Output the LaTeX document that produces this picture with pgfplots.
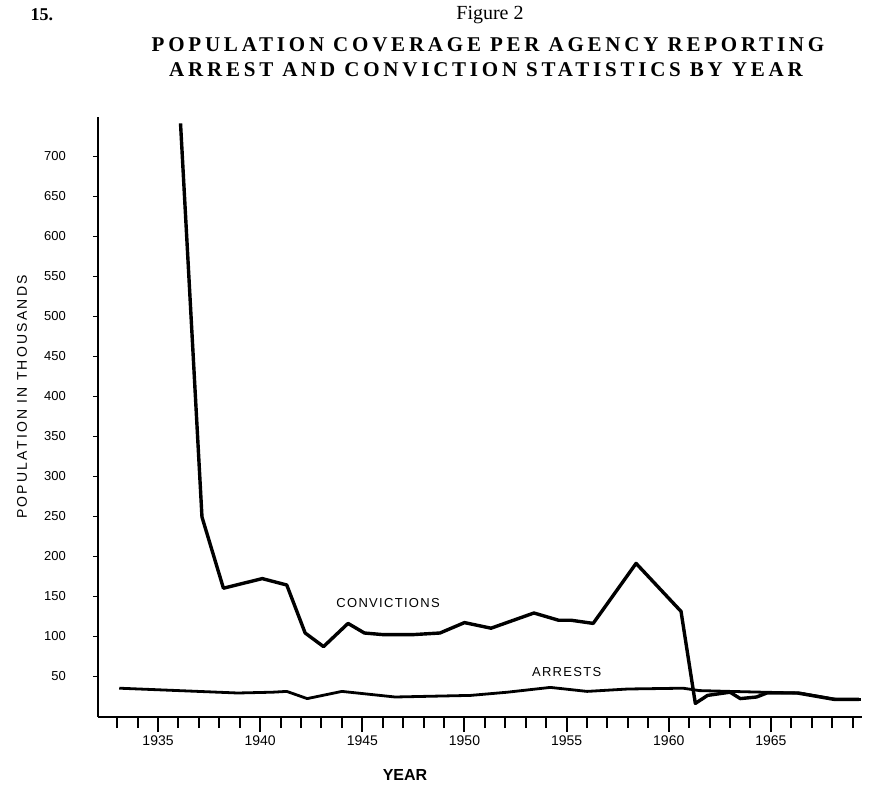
\documentclass[border=0pt]{standalone}
\usepackage{fontspec}
\setmainfont{Liberation Sans}
\newfontfamily\titlefont[LetterSpace=18]{Liberation Serif}
\newfontfamily\plainserif{Liberation Serif}
\newfontfamily\labelfont[LetterSpace=16]{Liberation Sans}
\newfontfamily\seriesfont[LetterSpace=10]{Liberation Sans}
\usepackage{pgfplots}
\pgfplotsset{compat=1.18}

\begin{document}
\begin{tikzpicture}
\path[use as bounding box] (-49pt,-37pt) rectangle (389pt,358.5pt);
\begin{axis}[
  at={(0,0)}, anchor=south west, scale only axis,
  width=382pt, height=300pt,
  xmin=1932.06, xmax=1969.46, ymin=-1, ymax=749,
  axis lines*=left,
  axis line style={-, line width=1.4pt, black},
  xtick={1935,1940,...,1965},
  minor xtick={1933,...,1969},
  ytick={50,100,...,700},
  tick align=outside,
  major tick length=2.5pt,
  xtick style={/pgfplots/major tick length=7.5pt, /pgfplots/minor tick length=5.5pt, line width=1pt, black},
  ytick style={line width=0.6pt, black},
  /pgf/number format/assume math mode=true,
  xticklabel style={/pgf/number format/1000 sep=, font=\fontsize{7}{8}\selectfont, yshift=-3.5pt},
  yticklabel style={font=\fontsize{6.5}{7}\selectfont, xshift=-10pt},
  clip=false,
]
\addplot[black, line width=1.7pt, line join=round] coordinates {
(1936.1,741) (1937.15,249) (1938.2,160) (1940.1,172) (1941.3,164)
(1942.2,104) (1943.1,87) (1944.3,116) (1945.1,104) (1946.0,102)
(1947.5,102) (1948.8,104) (1950.0,117) (1951.3,110) (1953.4,129)
(1954.6,120) (1955.2,120) (1956.3,116) (1958.4,191) (1960.6,131)
(1961.3,16) (1961.9,26) (1963.0,30) (1963.5,22) (1964.3,24)
(1964.8,29) (1966.3,29) (1968.1,21) (1969.3,21)
};
\addplot[black, line width=1.4pt, line join=round] coordinates {
(1933.1,35) (1938.9,29) (1940.6,30) (1941.3,31) (1942.3,22)
(1944.0,31) (1946.6,24) (1950.3,26) (1952.1,30) (1954.2,36)
(1956.0,31) (1958.0,34) (1960.7,35) (1961.5,32) (1963.0,31)
(1964.6,30) (1966.4,29) (1968.2,21) (1969.4,21)
};
\node[font=\seriesfont\fontsize{6.5}{7}\selectfont] at (axis cs:1946.26,141) {CONVICTIONS};
\node[font=\seriesfont\fontsize{6.5}{7}\selectfont] at (axis cs:1955.0,55) {ARRESTS};
\end{axis}
\node[font=\plainserif\bfseries\fontsize{9}{10}\selectfont] at (-28pt,351pt) {15.};
\node[font=\plainserif\fontsize{10}{11}\selectfont] at (196pt,351pt) {Figure 2};
\node[font=\titlefont\bfseries\fontsize{10.5}{12}\selectfont] at (195pt,336pt) {POPULATION COVERAGE PER AGENCY REPORTING};
\node[font=\titlefont\bfseries\fontsize{10.5}{12}\selectfont] at (194pt,323.5pt) {ARREST AND CONVICTION STATISTICS BY YEAR};
\node[font=\labelfont\fontsize{7}{8}\selectfont, rotate=90] at (-38pt,160pt) {POPULATION IN THOUSANDS};
\node[font=\bfseries\fontsize{8}{9}\selectfont] at (153.5pt,-29pt) {YEAR};
\end{tikzpicture}
\end{document}
